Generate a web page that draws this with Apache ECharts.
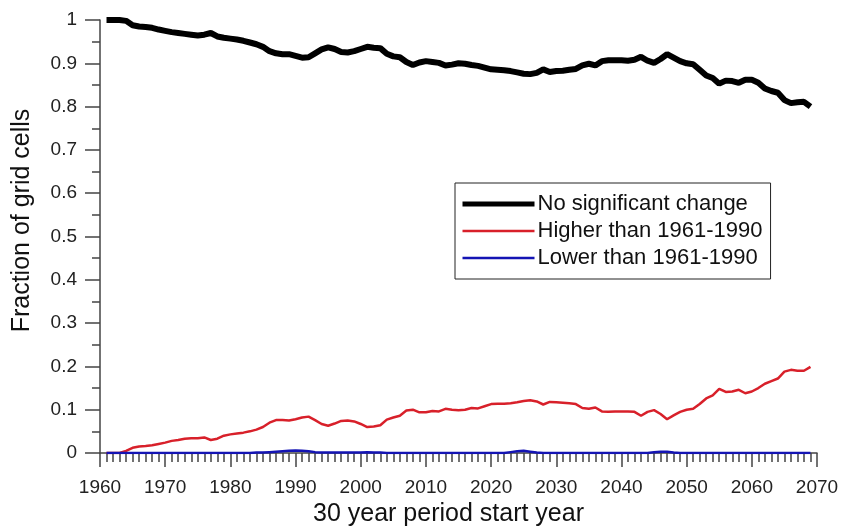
<!DOCTYPE html>
<html>
<head>
<meta charset="utf-8">
<script src="https://cdn.jsdelivr.net/npm/echarts@6/dist/echarts.min.js"></script>
<style>
html,body{margin:0;padding:0;background:#fff;}
#chart{width:846px;height:527px;}
</style>
</head>
<body>
<div id="chart"></div>
<script>
const startYears = [
1961,1962,1963,1964,1965,1966,1967,1968,1969,1970,
1971,1972,1973,1974,1975,1976,1977,1978,1979,1980,
1981,1982,1983,1984,1985,1986,1987,1988,1989,1990,
1991,1992,1993,1994,1995,1996,1997,1998,1999,2000,
2001,2002,2003,2004,2005,2006,2007,2008,2009,2010,
2011,2012,2013,2014,2015,2016,2017,2018,2019,2020,
2021,2022,2023,2024,2025,2026,2027,2028,2029,2030,
2031,2032,2033,2034,2035,2036,2037,2038,2039,2040,
2041,2042,2043,2044,2045,2046,2047,2048,2049,2050,
2051,2052,2053,2054,2055,2056,2057,2058,2059,2060,
2061,2062,2063,2064,2065,2066,2067,2068,2069
];
const noChange = [
1.000,1.000,1.000,0.998,0.988,0.985,0.984,0.982,0.978,0.975,
0.972,0.970,0.968,0.966,0.964,0.966,0.970,0.962,0.959,0.957,
0.955,0.952,0.948,0.944,0.938,0.928,0.923,0.921,0.921,0.917,
0.913,0.914,0.923,0.932,0.937,0.933,0.926,0.925,0.928,0.933,
0.938,0.936,0.935,0.922,0.916,0.914,0.903,0.896,0.902,0.905,
0.903,0.901,0.895,0.897,0.900,0.899,0.896,0.894,0.890,0.886,
0.885,0.884,0.882,0.879,0.876,0.875,0.878,0.886,0.880,0.882,
0.883,0.885,0.887,0.895,0.899,0.895,0.905,0.907,0.907,0.907,
0.906,0.908,0.915,0.906,0.901,0.910,0.921,0.913,0.905,0.900,
0.898,0.885,0.872,0.866,0.853,0.860,0.859,0.855,0.862,0.862,
0.855,0.842,0.836,0.832,0.815,0.808,0.810,0.811,0.800
];
const higher = [
0.000,0.000,0.000,0.005,0.012,0.015,0.016,0.018,0.021,0.024,
0.028,0.030,0.033,0.034,0.034,0.036,0.030,0.033,0.040,0.043,
0.045,0.047,0.050,0.054,0.060,0.070,0.076,0.076,0.075,0.078,
0.082,0.084,0.076,0.067,0.063,0.068,0.074,0.075,0.073,0.067,
0.060,0.061,0.064,0.077,0.082,0.086,0.098,0.100,0.094,0.094,
0.097,0.096,0.102,0.100,0.099,0.100,0.104,0.103,0.108,0.113,
0.114,0.114,0.115,0.117,0.120,0.122,0.119,0.112,0.118,0.117,
0.116,0.115,0.113,0.104,0.102,0.105,0.096,0.095,0.096,0.096,
0.096,0.095,0.086,0.095,0.099,0.090,0.078,0.087,0.095,0.100,
0.102,0.113,0.126,0.133,0.148,0.141,0.142,0.146,0.138,0.142,
0.150,0.160,0.166,0.172,0.188,0.192,0.190,0.190,0.199
];
const lower = [
0.000,0.000,0.000,0.000,0.000,0.000,0.000,0.000,0.000,0.000,
0.000,0.000,0.000,0.000,0.000,0.000,0.000,0.000,0.000,0.000,
0.000,0.000,0.000,0.001,0.001,0.002,0.003,0.004,0.005,0.006,
0.005,0.004,0.002,0.001,0.001,0.001,0.001,0.001,0.001,0.001,
0.002,0.001,0.001,0.000,0.000,0.000,0.000,0.000,0.000,0.000,
0.000,0.000,0.000,0.000,0.000,0.000,0.000,0.000,0.000,0.000,
0.000,0.000,0.002,0.004,0.005,0.003,0.001,0.000,0.000,0.000,
0.000,0.000,0.000,0.000,0.000,0.000,0.000,0.000,0.000,0.000,
0.000,0.000,0.000,0.000,0.002,0.003,0.003,0.001,0.000,0.000,
0.000,0.000,0.000,0.000,0.000,0.000,0.000,0.000,0.000,0.000,
0.000,0.000,0.000,0.000,0.000,0.000,0.000,0.000,0.000
];
const seriesNames = ['No significant change', 'Higher than 1961-1990', 'Lower than 1961-1990'];
const seriesColors = ['#000000', '#d8202a', '#1414b4'];
const seriesWidths = [6, 2.5, 2.5];
const legendWidths = [5, 2.5, 2.5];

const pair = vals => startYears.map((y, i) => [y, vals[i]]);
const font = 'Liberation Sans, Arial, sans-serif';

const chart = echarts.init(document.getElementById('chart'), null, {renderer: 'canvas'});
chart.setOption({
  animation: false,
  backgroundColor: '#fff',
  grid: {left: 100, right: 29, top: 20, bottom: 74, containLabel: false, outerBoundsMode: 'none'},
  legend: {
    orient: 'vertical',
    left: 455, top: 183,
    padding: [10, 8, 10, 5],
    itemWidth: 72, itemHeight: 20, itemGap: 5,
    borderColor: '#222', borderWidth: 1,
    backgroundColor: '#fff',
    itemStyle: {opacity: 0},
    textStyle: {fontFamily: font, fontSize: 22, color: '#111', padding: [0, 0, 0, -2]},
    data: seriesNames.map((n, i) => ({
      name: n,
      itemStyle: {opacity: 0},
      lineStyle: {color: seriesColors[i], width: legendWidths[i]}
    }))
  },
  xAxis: {
    type: 'value', min: 1960, max: 2070, interval: 10,
    name: '30 year period start year',
    nameLocation: 'middle', nameGap: 44,
    nameTextStyle: {fontFamily: font, fontSize: 25, color: '#111', padding: [0, 20, 0, 0]},
    axisLine: {show: true, onZero: false, lineStyle: {color: '#444', width: 1.5}},
    axisTick: {show: true, inside: false, length: 14, lineStyle: {color: '#444', width: 1.5}},
    minorTick: {show: true, splitNumber: 10, length: 9, lineStyle: {color: '#444', width: 1.5}},
    axisLabel: {fontFamily: font, fontSize: 19, color: '#222', margin: 25, formatter: v => String(v)},
    splitLine: {show: false}
  },
  yAxis: {
    type: 'value', min: 0, max: 1, interval: 0.1,
    name: 'Fraction of grid cells',
    nameLocation: 'middle', nameGap: 65, nameRotate: 90,
    nameTextStyle: {fontFamily: font, fontSize: 25, color: '#111', padding: [0, 0, 0, 32]},
    axisLine: {show: true, lineStyle: {color: '#444', width: 1.5}},
    axisTick: {show: true, inside: false, length: 15, lineStyle: {color: '#444', width: 1.5}},
    minorTick: {show: true, splitNumber: 2, length: 8, lineStyle: {color: '#444', width: 1.5}},
    axisLabel: {fontFamily: font, fontSize: 19, color: '#222', margin: 23},
    splitLine: {show: false}
  },
  series: seriesNames.map((n, i) => ({
    name: n, type: 'line', data: pair([noChange, higher, lower][i]), symbol: 'none', z: 3 + i,
    lineStyle: {color: seriesColors[i], width: seriesWidths[i]}, itemStyle: {color: seriesColors[i]}
  }))
});
</script>
</body>
</html>
